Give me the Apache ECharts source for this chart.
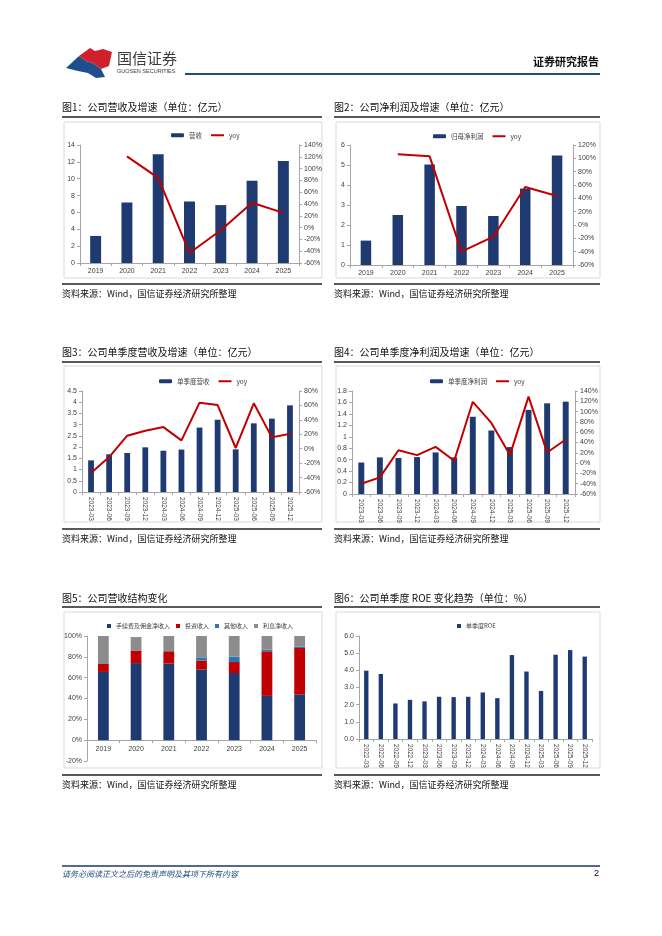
<!DOCTYPE html>
<html><head><meta charset="utf-8">
<script src="https://cdn.jsdelivr.net/npm/echarts@6/dist/echarts.min.js"></script>
<style>html,body{margin:0;padding:0;background:#fff}#c{width:662px;height:936px}</style>
</head><body><div id="c"></div>
<script>
// ---------- data ----------
const years = ['2019','2020','2021','2022','2023','2024','2025'];
const revenue = [3.21, 7.18, 12.90, 7.30, 6.87, 9.76, 12.10];
const revenueYoy = [null, 120.7, 84.4, -43.0, -4.5, 42.0, 25.0];
const netProfit = [1.22, 2.50, 5.03, 2.95, 2.45, 3.82, 5.47];
const netProfitYoy = [null, 106, 103, -40, -17.5, 57, 43.5];
const quarters = ['2023-03','2023-06','2023-09','2023-12','2024-03','2024-06','2024-09','2024-12','2025-03','2025-06','2025-09','2025-12'];
const qRevenue = [1.41, 1.68, 1.74, 1.99, 1.84, 1.89, 2.87, 3.22, 1.90, 3.06, 3.27, 3.86];
const qRevenueYoy = [-33.7, -11.6, 18.0, 25.0, 30.0, 11.5, 63.8, 60.5, 1.0, 63.0, 15.7, 20.8];
const qProfit = [0.55, 0.64, 0.63, 0.645, 0.726, 0.64, 1.35, 1.11, 0.82, 1.47, 1.585, 1.614];
const qProfitYoy = [-40, -27.7, 25, 15.5, 31.6, 4.5, 119, 78, 15.5, 129, 20.6, 45.8];
const structNames = ['手续费及佣金净收入','投资收入','其他收入','利息净收入'];
const structFee = [65.5, 74.0, 73.5, 67.7, 64.5, 42.5, 44.0];
const structInvest = [8.0, 12.0, 11.8, 8.7, 10.5, 42.8, 44.5];
const structOther = [0.5, 0.3, 0.3, 3.1, 5.2, 1.6, 1.3];
const structInterest = [26.0, 12.7, 14.4, 20.5, 19.8, 13.1, 10.2];
const roeQuarters = ['2022-03','2022-06','2022-09','2022-12','2023-03','2023-06','2023-09','2023-12','2024-03','2024-06','2024-09','2024-12','2025-03','2025-06','2025-09','2025-12'];
const roeValues = [3.98, 3.79, 2.07, 2.28, 2.19, 2.46, 2.44, 2.46, 2.71, 2.38, 4.89, 3.93, 2.80, 4.91, 5.18, 4.80];
const titles = ['图1：公司营收及增速（单位：亿元）','图2：公司净利润及增速（单位：亿元）','图3：公司单季度营收及增速（单位：亿元）','图4：公司单季度净利润及增速（单位：亿元）','图5：公司营收结构变化','图6：公司单季度 ROE 变化趋势（单位：%）'];
const sourceText = '资料来源：Wind，国信证券经济研究所整理';

// ---------- styling ----------
const CJK = '"Noto Sans CJK SC", sans-serif';
const LAT = '"Liberation Sans", "Noto Sans CJK SC", sans-serif';
const NAVY = '#1f3a70', RED = '#c00000', BLUE = '#2e75b6', GRAY = '#8c8c8c';
const AX = '#a6a6a6', LBL = '#404040';

function yAx(g, pos, min, max, interval, fmt) {
  return {gridIndex: g, type: 'value', position: pos, min, max, interval,
    splitLine: {show: false},
    axisLine: {show: true, onZero: false, lineStyle: {color: AX}},
    axisTick: {show: true, length: 3, lineStyle: {color: AX}},
    axisLabel: {fontSize: 7, color: LBL, margin: 5, fontFamily: LAT, formatter: fmt}};
}
function xAx(g, data, rotate) {
  return {gridIndex: g, type: 'category', data,
    axisLine: {onZero: false, lineStyle: {color: AX}},
    axisTick: {show: true, length: 3, lineStyle: {color: AX}},
    axisLabel: {fontSize: rotate ? 6.5 : 7, color: LBL, margin: 5, interval: 0, rotate: rotate || 0, fontFamily: LAT}};
}
const pct = '{value}%';
const yoyItem = {name: 'yoy', icon: 'path://M0,0 L13,0 L13,2 L0,2 Z', itemStyle: {color: RED}};
function legend(left, top, data, sq) {
  return {left, top, data, itemWidth: sq ? 4 : 13, itemHeight: 4, itemGap: sq ? 6 : 9,
    icon: sq ? 'rect' : undefined,
    textStyle: {fontSize: sq ? 6 : 6.5, color: LBL, fontFamily: CJK}};
}
function bar(name, x, y, data, w, stack, color) {
  return {type: 'bar', name, xAxisIndex: x, yAxisIndex: y, data, barWidth: w, stack,
    itemStyle: {color: color || NAVY}};
}
function line(x, y, data) {
  return {type: 'line', name: 'yoy', xAxisIndex: x, yAxisIndex: y, data, symbol: 'none',
    lineStyle: {color: RED, width: 2}, itemStyle: {color: RED}};
}

// ---------- page graphics ----------
const g = [];
function txt(text, x, y, font, fill, align) {
  g.push({type: 'text', x, y, silent: true,
    style: {text, font, fill: fill || '#000', textAlign: align || 'left', textVerticalAlign: 'middle'}});
}
function hline(x1, x2, y, color, w) {
  g.push({type: 'line', silent: true, shape: {x1, y1: y, x2, y2: y}, style: {stroke: color, lineWidth: w}});
}
function box(x, y, w, h) {
  g.push({type: 'rect', silent: true, shape: {x, y, width: w, height: h}, style: {fill: null, stroke: '#d9d9d9', lineWidth: 1}});
}
// logo
g.push({type: 'polygon', silent: true, shape: {points: [[66,68],[79,56],[86,61],[93,63],[101,69],[105,77],[96,78],[88,73],[78,71]]}, style: {fill: '#1f4e8c'}});
g.push({type: 'polygon', silent: true, shape: {points: [[79,56],[90,48],[95,51],[103,49],[112,52],[109,66],[101,69],[93,63],[86,61]]}, style: {fill: '#d0202e'}});
txt('国信证券', 117, 58, '15px ' + CJK, '#3a3a3a');
txt('GUOSEN SECURITIES', 117, 71, '5.5px ' + LAT, '#3a3a3a');
hline(185, 600, 74, '#1f4e79', 2);
txt('证券研究报告', 599, 62, 'bold 11px ' + CJK, '#111', 'right');
// panels
const panels = [
  [62, 322, 107, 117, 122, 278, 284, 294],
  [334, 600, 107, 117, 122, 278, 284, 294],
  [62, 322, 352, 362, 366, 522, 529, 539],
  [334, 600, 352, 362, 366, 522, 529, 539],
  [62, 322, 598, 607, 612, 768, 775, 785],
  [334, 600, 598, 607, 612, 768, 775, 785]
];
panels.forEach((p, i) => {
  txt(titles[i], p[0], p[2], '10px ' + CJK, '#111');
  hline(p[0], p[1], p[3], '#222', 1.5);
  box(p[0] + 2, p[4], p[1] - p[0] - 2, p[5] - p[4]);
  hline(p[0], p[1], p[6], '#222', 1.5);
  txt(sourceText, p[0], p[7], '9px ' + CJK, '#111');
});
// footer
hline(62, 600, 866, '#1f3864', 1.5);
txt('请务必阅读正文之后的免责声明及其项下所有内容', 62, 874, 'italic 8px ' + CJK, '#1f4e79');
txt('2', 599, 874, '9px ' + LAT, '#111', 'right');

// ---------- chart ----------
const s5h = 125; // full height of chart-5 value axis (-20..100)
const hiddenY = {gridIndex: 4, type: 'value', min: 0, max: 100, show: false};
const hiddenX = {gridIndex: 6, type: 'category', data: years, show: false};
const chart = echarts.init(document.getElementById('c'));
chart.setOption({
  animation: false,
  backgroundColor: '#fff',
  graphic: g,
  grid: [
    {left: 80, top: 145, width: 219, height: 118},
    {left: 350, top: 145, width: 223, height: 120},
    {left: 82, top: 391, width: 217, height: 101},
    {left: 352, top: 391, width: 223, height: 103},
    {left: 87, top: 636, width: 229, height: s5h * 100 / 120},
    {left: 359, top: 636, width: 233, height: 103},
    {left: 87, top: 636, width: 229, height: s5h}
  ],
  legend: [
    legend(166, 127, ['营收', yoyItem]),
    legend(428, 128, ['归母净利润', yoyItem]),
    legend(154, 373, ['单季度营收', yoyItem]),
    legend(425, 373, ['单季度净利润', yoyItem]),
    legend(102, 618, structNames, true),
    legend(452, 618, ['单季度ROE'], true)
  ],
  xAxis: [
    xAx(0, years), xAx(1, years), xAx(2, quarters, -90), xAx(3, quarters, -90), xAx(4, years), xAx(5, roeQuarters, -90), hiddenX
  ],
  yAxis: [
    yAx(0, 'left', 0, 14, 2), yAx(0, 'right', -60, 140, 20, pct),
    yAx(1, 'left', 0, 6, 1), yAx(1, 'right', -60, 120, 20, pct),
    yAx(2, 'left', 0, 4.5, 0.5), yAx(2, 'right', -60, 80, 20, pct),
    yAx(3, 'left', 0, 1.8, 0.2), yAx(3, 'right', -60, 140, 20, pct),
    hiddenY,
    yAx(5, 'left', 0, 6, 1, v => v.toFixed(1)),
    yAx(6, 'left', -20, 100, 20, pct)
  ],
  series: [
    bar('营收', 0, 0, revenue, '35%'), line(0, 1, revenueYoy),
    bar('归母净利润', 1, 2, netProfit, '33%'), line(1, 3, netProfitYoy),
    bar('单季度营收', 2, 4, qRevenue, '32%'), line(2, 5, qRevenueYoy),
    bar('单季度净利润', 3, 6, qProfit, '32%'), line(3, 7, qProfitYoy),
    bar(structNames[0], 4, 8, structFee, '33%', 's', NAVY),
    bar(structNames[1], 4, 8, structInvest, '33%', 's', RED),
    bar(structNames[2], 4, 8, structOther, '33%', 's', BLUE),
    bar(structNames[3], 4, 8, structInterest, '33%', 's', GRAY),
    bar('单季度ROE', 5, 9, roeValues, '30%')
  ]
});
</script></body></html>
